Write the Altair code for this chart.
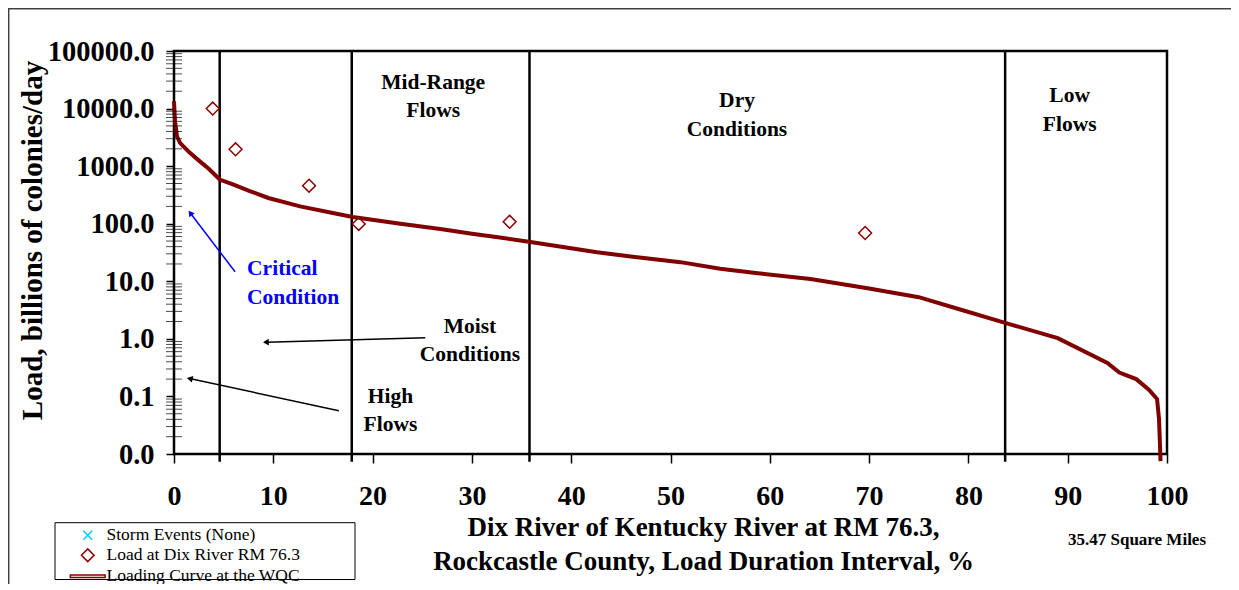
import altair as alt
import pandas as pd

# ---------------- data ----------------
curve_x = [0, 0.1, 0.3, 0.6, 1.6, 2.6, 3.5, 4.6, 6.0, 7.5, 9.5, 12.7, 16.0, 18.0,
           22.8, 27.0, 30.0, 33.0, 35.9, 42.6, 46.0, 51.0, 55.0, 59.0, 64.1, 70.0,
           75.0, 79.0, 83.7, 89.0, 94.0, 95.2, 96.9, 98.2, 99.0, 99.2, 99.35]
curve_y = [13400, 6000, 3300, 2540, 1700, 1210, 900, 585, 477, 375, 280, 200, 154, 131,
           100, 80, 67, 57, 48, 32, 27, 21.5, 16.5, 13.7, 11.0, 7.5,
           5.3, 3.3, 1.9, 1.03, 0.38, 0.26, 0.2, 0.13, 0.09, 0.04, 0.0075]

obs_x = [3.9, 6.2, 13.6, 18.6, 33.8, 69.6]
obs_y = [10000, 1960, 457, 99, 108, 69]

zone_x = [4.6, 17.9, 35.8, 83.7]

series_names = ["Storm Events (None)", "Load at Dix River RM 76.3", "Loading Curve at the WQC"]
series_colors = ["#00c8ff", "#8b0000", "#800000"]
series_shapes = ["M-0.7,-0.7L0.7,0.7M-0.7,0.7L0.7,-0.7",
                 "diamond",
                 "M-2.75,-0.2L2.75,-0.2L2.75,0.2L-2.75,0.2Z"]

y_ticks = [0.01, 0.1, 1, 10, 100, 1000, 10000, 100000]
x_ticks = [0, 10, 20, 30, 40, 50, 60, 70, 80, 90, 100]
minor_ticks = [m * 10.0 ** e for e in range(-2, 5) for m in range(2, 10)]

note_text = ["Mid-Range\nFlows", "Dry\nConditions", "Low\nFlows", "Moist\nConditions", "High\nFlows"]
note_x = [26.1, 56.7, 90.2, 29.8, 21.8]
note_y = [27990, 13400, 16370, 1.637, 0.0992]   # position of the first line

crit_text = ["Critical\nCondition"]
crit_x = [7.36]
crit_y = [16.3]

arrow_x = [6.15, 25.3, 16.6]
arrow_y = [14.6, 1.05, 0.0566]
arrow_x2 = [1.7, 9.35, 1.68]
arrow_y2 = [149, 0.877, 0.2026]
arrow_angle = [322.8, 268.3, 282.1]
arrow_color = ["#0000ff", "#000000", "#000000"]

SERIF = "Liberation Serif"

# ---------------- scales / axes ----------------
xs = alt.Scale(domain=[0, 100], nice=False, zero=False)
ys = alt.Scale(type="log", domain=[0.01, 100000], nice=False)
cs = alt.Scale(domain=series_names, range=series_colors)
ss = alt.Scale(domain=series_names, range=series_shapes)

x_axis = alt.Axis(
    values=x_ticks, format="d", tickSize=9, tickWidth=1.5, tickColor="black",
    labelFont=SERIF, labelFontSize=28, labelFontWeight="bold", labelColor="black",
    labelPadding=19, labelFlush=False, labelOverlap=False, domain=False, grid=False,
    title=["Dix River of Kentucky River at RM 76.3,", "Rockcastle County, Load Duration Interval, %"],
    titleFont=SERIF, titleFontSize=27, titleFontWeight="bold", titleColor="black",
    titleLineHeight=34, titleX=529, titleY=60, titleAlign="center", titleBaseline="top",
)
y_axis = alt.Axis(
    values=y_ticks, format=".1f", tickSize=8, tickWidth=1.5, tickColor="black",
    labelFont=SERIF, labelFontSize=28.5, labelFontWeight="bold", labelColor="black",
    labelPadding=12, labelFlush=False, labelOverlap=False, domain=False, grid=False,
    title="Load, billions of colonies/day",
    titleFont=SERIF, titleFontSize=29, titleFontWeight="bold", titleColor="black",
    titleX=-142, titleY=189, titleAlign="center", titleBaseline="middle", titleAngle=-90,
)

legend = alt.Legend(
    title=None, orient="none", legendX=-119, legendY=471.5, direction="vertical",
    labelFont=SERIF, labelFontSize=17.5, labelColor="black", labelLimit=500,
    symbolSize=160, symbolStrokeWidth=1.5, symbolFillColor="transparent",
    padding=4, rowPadding=1, symbolOffset=20, labelOffset=10,
)

curve_df = pd.DataFrame({"x": curve_x, "y": curve_y, "series": series_names[2]})
obs_df = pd.DataFrame({"x": obs_x, "y": obs_y, "series": series_names[1]})
zone_df = pd.DataFrame({"x": zone_x, "top": 100000, "bottom": 0.0073})
minor_df = pd.DataFrame({"v": minor_ticks})
note_df = pd.DataFrame({"t": note_text, "x": note_x, "y": note_y})
crit_df = pd.DataFrame({"t": crit_text, "x": crit_x, "y": crit_y})
arrow_df = pd.DataFrame({"x": arrow_x, "y": arrow_y, "x2": arrow_x2, "y2": arrow_y2,
                         "angle": arrow_angle, "c": arrow_color})
one = pd.DataFrame({"a": [0]})


def X(field):
    return alt.X(field, scale=xs, axis=x_axis)


def Y(field):
    return alt.Y(field, scale=ys, axis=y_axis)


frame_top = alt.Chart(one).mark_rule(color="#404040", strokeWidth=1.5).encode(
    x=alt.value(-166), x2=alt.value(1060), y=alt.value(-42.3)
)
frame_left = alt.Chart(one).mark_rule(color="#404040", strokeWidth=1.5).encode(
    x=alt.value(-165.3), y=alt.value(-43), y2=alt.value(560)
)
legend_box = alt.Chart(one).mark_rect(fill="white", stroke="black", strokeWidth=1).encode(
    x=alt.value(-119), x2=alt.value(181), y=alt.value(471.7), y2=alt.value(528.5)
)

zones = alt.Chart(zone_df).mark_rule(color="black", strokeWidth=2.5).encode(
    x=X("x:Q"), y=Y("top:Q"), y2="bottom:Q",
)

curve = alt.Chart(curve_df).mark_line(strokeWidth=4).encode(
    x=X("x:Q"), y=Y("y:Q"),
    color=alt.Color("series:N", scale=cs, legend=legend),
)

obs = alt.Chart(obs_df).mark_point(filled=False, size=165, strokeWidth=1.5, opacity=1).encode(
    x=X("x:Q"), y=Y("y:Q"),
    color=alt.Color("series:N", scale=cs, legend=legend),
    shape=alt.Shape("series:N", scale=ss),
)

minor = alt.Chart(minor_df).mark_tick(orient="horizontal", size=16, thickness=1, color="black").encode(
    y=Y("v:Q"), x=alt.value(0),
)

notes = alt.Chart(note_df).mark_text(
    font=SERIF, fontSize=21.5, fontWeight="bold", color="black", lineBreak="\n",
    lineHeight=28.5, align="center", baseline="middle",
).encode(x=X("x:Q"), y=Y("y:Q"), text="t:N")

crit = alt.Chart(crit_df).mark_text(
    font=SERIF, fontSize=21.5, fontWeight="bold", color="#0000ff", lineBreak="\n",
    lineHeight=29, align="left", baseline="middle",
).encode(x=X("x:Q"), y=Y("y:Q"), text="t:N")

arrows = alt.Chart(arrow_df).mark_rule(strokeWidth=1.5).encode(
    x=X("x:Q"), y=Y("y:Q"), x2="x2:Q", y2="y2:Q",
    color=alt.Color("c:N", scale=None),
)

heads = alt.Chart(arrow_df).mark_point(shape="triangle", size=45, filled=True, opacity=1).encode(
    x=X("x2:Q"), y=Y("y2:Q"),
    angle=alt.Angle("angle:Q", scale=None),
    color=alt.Color("c:N", scale=None),
)

area_note = alt.Chart(one).mark_text(
    font=SERIF, fontSize=17, fontWeight="bold", color="black", align="center", baseline="middle",
).encode(x=alt.value(963), y=alt.value(489), text=alt.value("35.47 Square Miles"))

chart = alt.layer(
    frame_top, frame_left, legend_box, zones, curve, obs, minor, notes, crit, arrows, heads, area_note
).properties(
    width=993, height=403,
    autosize=alt.AutoSizeParams(type="none"),
    padding={"left": 166, "top": 43, "right": 64, "bottom": 130},
    background="white",
).configure_view(
    stroke="black", strokeWidth=2.5
)

chart.save("out.html", embed_options={"renderer": "svg", "actions": False})
